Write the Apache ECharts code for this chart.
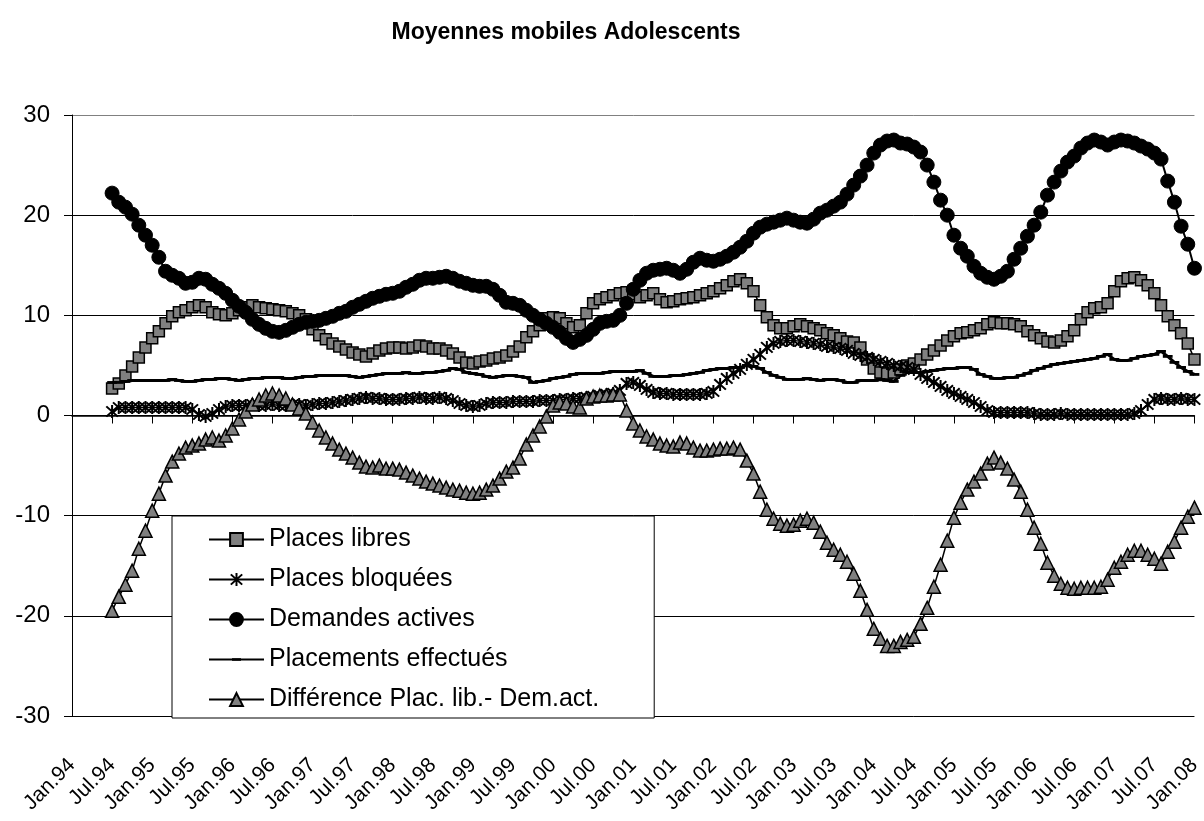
<!DOCTYPE html>
<html>
<head>
<meta charset="utf-8">
<script src="https://cdn.jsdelivr.net/npm/echarts@6/dist/echarts.min.js"></script>
<style>
html,body{margin:0;padding:0;background:#fff;}
#chart{width:1204px;height:821px;}
</style>
</head>
<body>
<div id="chart"></div>
<script>
// Month names and years used for category labels (monthly, Jan.94 .. Jan.08)
var monthNames = ['Jan.','Feb.','Mar.','Apr.','May.','Jun.','Jul.','Aug.','Sep.','Oct.','Nov.','Dec.'];
var years = ['94','95','96','97','98','99','00','01','02','03','04','05','06','07','08'];
var categories = [];
years.forEach(function (y, yi) {
  monthNames.forEach(function (m, mi) {
    if (yi < years.length - 1 || mi === 0) categories.push(m + y);
  });
});

// Series start at Jul.94 (6 empty months before)
var leadingEmpty = [null, null, null, null, null, null];

var placesLibres = [
  2.7, 3.2, 4.0, 4.9, 5.8, 6.8,
  7.7, 8.4, 9.2, 9.9, 10.3, 10.5, 10.8, 11.0, 10.8, 10.3, 10.1, 10.0,
  10.2, 10.5, 10.8, 11.0, 10.8, 10.7, 10.6, 10.5, 10.4, 10.2, 10.0, 9.6,
  8.6, 8.0, 7.6, 7.2, 6.9, 6.6, 6.3, 6.1, 5.9, 6.2, 6.5, 6.7,
  6.8, 6.8, 6.7, 6.8, 7.0, 6.9, 6.7, 6.7, 6.5, 6.2, 5.8, 5.3,
  5.2, 5.4, 5.5, 5.7, 5.8, 6.0, 6.4, 6.9, 7.8, 8.4, 9.0, 9.7,
  9.8, 9.7, 9.2, 8.8, 9.0, 10.2, 11.2, 11.6, 11.8, 12.0, 12.2, 12.3,
  12.1, 11.8, 12.0, 12.2, 11.6, 11.3, 11.4, 11.6, 11.7, 11.8, 12.0, 12.2,
  12.4, 12.7, 13.0, 13.4, 13.6, 13.2, 12.4, 11.0, 9.8, 9.0, 8.7, 8.7,
  8.9, 9.1, 8.9, 8.7, 8.5, 8.2, 8.0, 7.7, 7.4, 7.3, 6.8, 5.6,
  4.7, 4.3, 4.2, 4.3, 4.6, 5.0, 5.2, 5.6, 6.1, 6.5, 7.0, 7.5,
  7.9, 8.2, 8.3, 8.5, 8.7, 9.1, 9.3, 9.2, 9.2, 9.1, 8.9, 8.4,
  8.0, 7.7, 7.4, 7.3, 7.5, 7.9, 8.5, 9.6, 10.3, 10.7, 10.8, 11.2,
  12.4, 13.4, 13.7, 13.8, 13.5, 13.0, 12.2, 11.0, 9.9, 9.0, 8.2, 7.2,
  5.6
];

var placesBloquees = [
  0.4, 0.8, 0.8, 0.8, 0.8, 0.8,
  0.8, 0.8, 0.8, 0.8, 0.8, 0.8, 0.6, 0.1, -0.1, 0.2, 0.6, 0.9,
  1.0, 1.0, 1.0, 1.1, 1.0, 1.0, 1.1, 1.0, 1.0, 1.1, 1.1, 1.0,
  1.1, 1.2, 1.2, 1.3, 1.4, 1.5, 1.6, 1.7, 1.8, 1.7, 1.7, 1.6,
  1.6, 1.6, 1.7, 1.7, 1.8, 1.7, 1.7, 1.8, 1.7, 1.5, 1.2, 1.0,
  0.9, 1.0, 1.2, 1.3, 1.3, 1.3, 1.4, 1.4, 1.4, 1.4, 1.5, 1.5,
  1.5, 1.6, 1.6, 1.7, 1.7, 1.8, 1.9, 2.0, 2.1, 2.2, 2.5, 3.2,
  3.3, 3.0, 2.6, 2.3, 2.2, 2.2, 2.1, 2.1, 2.1, 2.1, 2.1, 2.2,
  2.4, 3.1, 3.7, 4.2, 4.6, 5.1, 5.6, 6.1, 6.8, 7.2, 7.4, 7.5,
  7.5, 7.4, 7.3, 7.2, 7.1, 6.9, 6.8, 6.7, 6.5, 6.2, 6.0, 5.8,
  5.6, 5.4, 5.2, 5.0, 4.9, 4.8, 4.6, 4.1, 3.7, 3.3, 2.9, 2.5,
  2.2, 1.9, 1.6, 1.3, 0.9, 0.5, 0.3, 0.3, 0.3, 0.3, 0.3, 0.3,
  0.2, 0.1, 0.1, 0.1, 0.2, 0.1, 0.1, 0.1, 0.1, 0.1, 0.1, 0.1,
  0.1, 0.1, 0.1, 0.2, 0.5, 1.1, 1.6, 1.7, 1.6, 1.6, 1.7, 1.6,
  1.6
];

var demandesActives = [
  22.2, 21.3, 20.8, 20.1, 19.0, 18.0,
  17.0, 15.8, 14.4, 14.0, 13.7, 13.2, 13.3, 13.7, 13.6, 13.1, 12.7, 12.2,
  11.5, 10.9, 10.3, 9.6, 9.1, 8.7, 8.4, 8.3, 8.5, 8.8, 9.1, 9.3,
  9.4, 9.5, 9.7, 9.9, 10.2, 10.4, 10.8, 11.1, 11.4, 11.7, 11.9, 12.1,
  12.2, 12.4, 12.8, 13.1, 13.5, 13.7, 13.7, 13.8, 13.9, 13.7, 13.4, 13.2,
  13.0, 12.9, 12.9, 12.6, 12.0, 11.3, 11.2, 11.0, 10.5, 10.0, 9.6, 9.2,
  8.8, 8.3, 7.7, 7.3, 7.6, 8.0, 8.6, 9.2, 9.4, 9.5, 10.0, 11.2,
  12.6, 13.5, 14.2, 14.5, 14.6, 14.7, 14.5, 14.2, 14.6, 15.3, 15.7, 15.5,
  15.4, 15.6, 15.9, 16.3, 16.8, 17.4, 18.2, 18.8, 19.1, 19.3, 19.5, 19.7,
  19.5, 19.3, 19.2, 19.6, 20.2, 20.5, 20.9, 21.3, 22.1, 23.0, 23.9, 25.0,
  26.2, 27.0, 27.4, 27.5, 27.2, 27.1, 26.8, 26.3, 25.0, 23.3, 21.5, 20.0,
  18.0, 16.7, 15.9, 14.9, 14.2, 13.8, 13.6, 13.9, 14.4, 15.6, 16.7, 17.9,
  19.0, 20.3, 22.0, 23.3, 24.4, 25.3, 25.9, 26.7, 27.2, 27.5, 27.3, 27.0,
  27.3, 27.5, 27.4, 27.2, 26.9, 26.6, 26.2, 25.6, 23.4, 21.3, 18.9, 17.1,
  14.7
];

var placementsEffectues = [
  3.3, 3.3, 3.4, 3.5, 3.5, 3.5,
  3.5, 3.5, 3.5, 3.6, 3.5, 3.4, 3.4, 3.5, 3.6, 3.6, 3.7, 3.7,
  3.6, 3.5, 3.6, 3.7, 3.7, 3.8, 3.8, 3.8, 3.7, 3.7, 3.8, 3.9,
  3.9, 4.0, 4.0, 4.0, 4.0, 4.0, 3.9, 3.8, 3.9, 4.0, 4.1, 4.2,
  4.2, 4.2, 4.3, 4.2, 4.2, 4.3, 4.3, 4.4, 4.5, 4.7, 4.6, 4.3,
  4.2, 4.1, 3.9, 3.8, 3.9, 4.0, 4.0, 3.9, 3.8, 3.3, 3.4, 3.5,
  3.7, 3.8, 3.9, 4.1, 4.2, 4.2, 4.2, 4.2, 4.3, 4.4, 4.4, 4.4,
  4.4, 4.5, 4.2, 3.9, 3.9, 3.9, 4.0, 4.0, 4.1, 4.2, 4.3, 4.5,
  4.6, 4.7, 4.7, 4.8, 4.8, 5.0, 4.9, 4.7, 4.3, 4.0, 3.8, 3.6,
  3.6, 3.6, 3.7, 3.6, 3.5, 3.6, 3.6, 3.5, 3.3, 3.3, 3.5, 3.5,
  3.5, 3.6, 3.5, 3.4, 4.0, 4.3, 4.3, 4.3, 4.4, 4.5, 4.6, 4.7,
  4.7, 4.8, 4.8, 4.6, 4.1, 3.9, 3.7, 3.7, 3.8, 3.8, 4.0, 4.2,
  4.5, 4.7, 4.9, 5.1, 5.2, 5.3, 5.4, 5.5, 5.6, 5.7, 5.9, 6.1,
  5.6, 5.5, 5.5, 5.7, 5.9, 6.0, 6.1, 6.4, 5.9, 5.3, 4.8, 4.4,
  4.1
];

var difference = [
  -19.5, -18.1, -16.9, -15.5, -13.3, -11.5,
  -9.5, -7.8, -6.0, -4.6, -3.8, -3.2, -3.0, -2.8, -2.4, -2.2, -2.5, -2.0,
  -1.3, -0.4, 0.4, 1.1, 1.6, 2.0, 2.2, 2.0, 1.7, 1.1, 0.7, 0.2,
  -0.7, -1.5, -2.2, -2.8, -3.4, -3.8, -4.2, -4.7, -5.1, -5.2, -5.0, -5.3,
  -5.3, -5.4, -5.7, -6.0, -6.3, -6.6, -6.8, -7.0, -7.2, -7.4, -7.5, -7.7,
  -7.8, -7.7, -7.4, -7.0, -6.3, -5.6, -5.2, -4.3, -2.9, -2.0, -1.1, -0.1,
  1.0, 1.3, 1.2, 0.9, 0.8, 1.7, 1.9, 2.0, 2.0, 2.1, 2.1, 0.5,
  -0.8, -1.5, -2.1, -2.4, -2.8, -3.0, -3.1, -2.7, -2.8, -3.2, -3.5, -3.5,
  -3.4, -3.3, -3.3, -3.2, -3.4, -4.5, -5.8, -7.6, -9.4, -10.3, -10.8, -11.0,
  -10.9, -10.5, -10.3, -10.7, -11.6, -12.7, -13.4, -13.9, -14.6, -15.8, -17.5, -19.4,
  -21.3, -22.3, -23.0, -23.0, -22.6, -22.4, -22.1, -20.8, -19.2, -17.1, -14.9, -12.5,
  -10.2, -8.7, -7.4, -6.6, -5.8, -4.8, -4.2, -4.7, -5.3, -6.4, -7.6, -9.4,
  -11.2, -12.8, -14.7, -16.0, -16.8, -17.2, -17.3, -17.2, -17.2, -17.2, -17.1, -16.4,
  -15.2, -14.6, -13.9, -13.5, -13.5, -13.9, -14.3, -14.8, -13.6, -12.6, -11.2, -10.1,
  -9.2
];

var seriesNames = ['Places libres', 'Places bloquées', 'Demandes actives', 'Placements effectués', 'Différence Plac. lib.- Dem.act.'];
var yTicks = { min: -30, max: 30, step: 10 };

// asterisk: vertical bar + two diagonals (thicker arms)
var asterisk = 'path://M-1.4,-10L1.4,-10L1.4,10L-1.4,10Z M-9,-7L-7,-9L9,7L7,9Z M7,-9L9,-7L-7,9L-9,7Z';
// short dash inside a 20x20 box (the moveTo points fix the box)
var dash = 'path://M-10,-10L-10,-10M10,10L10,10M-7,-2L7,-2L7,2L-7,2Z';
var FONT = '"Liberation Sans", Arial, sans-serif';

var chart = echarts.init(document.getElementById('chart'), null, { renderer: 'canvas' });

function lineSeries(name, values, extra) {
  var s = {
    name: name,
    type: 'line',
    data: leadingEmpty.concat(values),
    showSymbol: true,
    showAllSymbol: true,
    connectNulls: false,
    animation: false,
    lineStyle: { color: '#000', width: 1.5 },
    emphasis: { disabled: true }
  };
  for (var k in extra) s[k] = extra[k];
  return s;
}

var option = {
  animation: false,
  backgroundColor: '#fff',
  title: {
    text: 'Moyennes mobiles Adolescents',
    left: 561,
    top: 16,
    textAlign: 'center',
    textStyle: { fontFamily: FONT, fontSize: 23, fontWeight: 'bold', color: '#000' }
  },
  grid: { left: 72, right: 3, top: 115, bottom: 105, containLabel: false },
  legend: {
    orient: 'vertical',
    left: 172,
    top: 516,
    padding: [11, 55, 6, 36],
    itemWidth: 55,
    itemHeight: 16,
    itemGap: 15,
    backgroundColor: '#fff',
    borderColor: '#000',
    borderWidth: 1,
    textStyle: { fontFamily: FONT, fontSize: 25, color: '#000' },
    data: seriesNames
  },
  xAxis: {
    type: 'category',
    data: categories,
    boundaryGap: false,
    axisLine: { lineStyle: { color: '#000', width: 1.5 } },
    axisTick: { interval: 5, length: 8, lineStyle: { color: '#000' } },
    axisLabel: {
      interval: 5,
      rotate: 45,
      margin: 46,
      fontFamily: FONT,
      fontSize: 21,
      color: '#000'
    },
    splitLine: { show: false }
  },
  yAxis: {
    type: 'value',
    min: yTicks.min,
    max: yTicks.max,
    interval: yTicks.step,
    axisLine: { show: true, lineStyle: { color: '#000', width: 1 } },
    axisTick: { show: true, length: 8, lineStyle: { color: '#000' } },
    axisLabel: { margin: 22, fontFamily: FONT, fontSize: 24, color: '#000' },
    splitLine: { show: true, lineStyle: { color: ['#000', '#000', '#000', '#000', '#000', '#000', '#808080'], width: 1 } }
  },
  series: [
    lineSeries(seriesNames[0], placesLibres, {
      symbol: 'rect', symbolSize: 11,
      itemStyle: { color: '#808080', borderColor: '#000', borderWidth: 1.5 }
    }),
    lineSeries(seriesNames[1], placesBloquees, {
      symbol: asterisk, symbolSize: 13,
      itemStyle: { color: '#000' }
    }),
    lineSeries(seriesNames[2], demandesActives, {
      symbol: 'circle', symbolSize: 14,
      lineStyle: { color: '#000', width: 2 },
      itemStyle: { color: '#000', borderColor: '#000', borderWidth: 1 }
    }),
    lineSeries(seriesNames[3], placementsEffectues, {
      symbol: dash, symbolSize: 14,
      lineStyle: { color: '#000', width: 3 },
      itemStyle: { color: '#000' }
    }),
    lineSeries(seriesNames[4], difference, {
      symbol: 'triangle', symbolSize: 13,
      itemStyle: { color: '#808080', borderColor: '#000', borderWidth: 1.5 }
    })
  ]
};

chart.setOption(option);
</script>
</body>
</html>
